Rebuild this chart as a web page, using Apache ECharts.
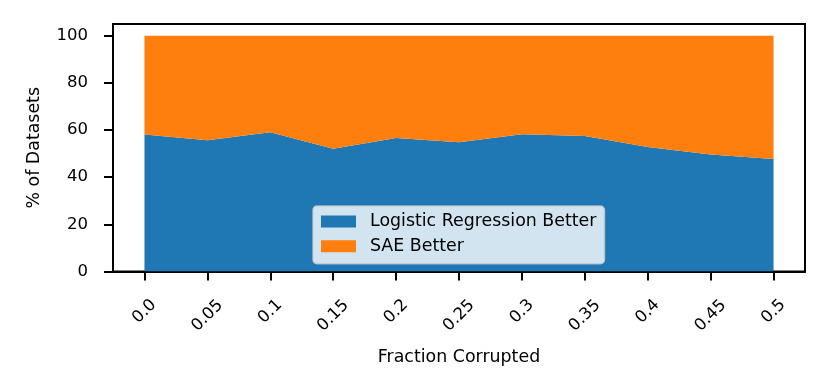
<!DOCTYPE html>
<html><head><meta charset="utf-8">
<script src="https://cdn.jsdelivr.net/npm/echarts@6/dist/echarts.min.js"></script>
<style>html,body{margin:0;padding:0;background:#fff}#c{width:830px;height:392px}</style>
</head><body><div id="c"></div>
<script>
const categories = ['0.0','0.05','0.1','0.15','0.2','0.25','0.3','0.35','0.4','0.45','0.5'];
const logisticBetter = [58.1, 55.7, 59.1, 52.1, 56.6, 54.8, 58.2, 57.5, 52.8, 49.6, 47.7];
const saeBetter = [41.9, 44.3, 40.9, 47.9, 43.4, 45.2, 41.8, 42.5, 47.2, 50.4, 52.3];
const yTicks = [0, 20, 40, 60, 80, 100];
const seriesNames = ['Logistic Regression Better', 'SAE Better'];
const colors = ['#1f77b4', '#ff7f0e'];
const FONT = 'DejaVu Sans';

const chart = echarts.init(document.getElementById('c'), null, {renderer: 'canvas'});
chart.setOption({
  animation: false,
  color: colors,
  textStyle: {fontFamily: FONT},
  grid: {left: 113, right: 25, top: 24, bottom: 120.5, show: true, borderColor: '#000', borderWidth: 2, backgroundColor: 'transparent'},
  legend: {
    data: seriesNames, orient: 'vertical', left: 313, top: 206,
    icon: 'rect', itemWidth: 35, itemHeight: 12, itemGap: 7.7,
    padding: [7, 8, 9, 8],
    backgroundColor: 'rgba(255,255,255,0.8)', borderColor: 'rgba(204,204,204,0.8)', borderWidth: 1.5, borderRadius: 4,
    textStyle: {fontFamily: FONT, fontSize: 17.4, lineHeight: 17, color: '#000', padding: [0, 0, 0, 9]}
  },
  xAxis: {
    type: 'category', data: categories, boundaryGap: true,
    name: 'Fraction Corrupted', nameLocation: 'middle', nameGap: 77,
    nameTextStyle: {fontFamily: FONT, fontSize: 17.4, color: '#000'},
    axisLine: {show: true, lineStyle: {color: '#000', width: 2}},
    axisTick: {show: true, inside: false, alignWithLabel: true, interval: 0, length: 9, lineStyle: {color: '#000', width: 2}},
    axisLabel: {
      interval: 0, rotate: 45, align: 'center', verticalAlign: 'middle', margin: 40,
      fontFamily: FONT, fontSize: 16.5, color: '#000',
      formatter: v => v.length > 3 ? '{l|' + v + '}' : '{s|' + v + '}',
      rich: {
        s: {fontFamily: FONT, fontSize: 16.5, color: '#000'},
        l: {fontFamily: FONT, fontSize: 16.5, color: '#000', padding: [6, 6, 0, 0]}
      }
    },
    splitLine: {show: false}
  },
  yAxis: {
    type: 'value', min: 0, max: 105, interval: 20,
    name: '% of Datasets', nameLocation: 'middle', nameGap: 70,
    nameTextStyle: {fontFamily: FONT, fontSize: 17.4, color: '#000'},
    axisLine: {show: true, lineStyle: {color: '#000', width: 2}},
    axisTick: {show: true, inside: false, length: 9, customValues: yTicks, lineStyle: {color: '#000', width: 2}},
    axisLabel: {customValues: yTicks, margin: 25, fontFamily: FONT, fontSize: 16.5, color: '#000'},
    splitLine: {show: false}
  },
  series: [
    {name: seriesNames[0], type: 'line', stack: 'total', data: logisticBetter, symbol: 'none',
     lineStyle: {width: 0}, areaStyle: {color: colors[0], opacity: 1}, itemStyle: {color: colors[0]}},
    {name: seriesNames[1], type: 'line', stack: 'total', data: saeBetter, symbol: 'none',
     lineStyle: {width: 0}, areaStyle: {color: colors[1], opacity: 1}, itemStyle: {color: colors[1]}}
  ]
});
</script></body></html>
